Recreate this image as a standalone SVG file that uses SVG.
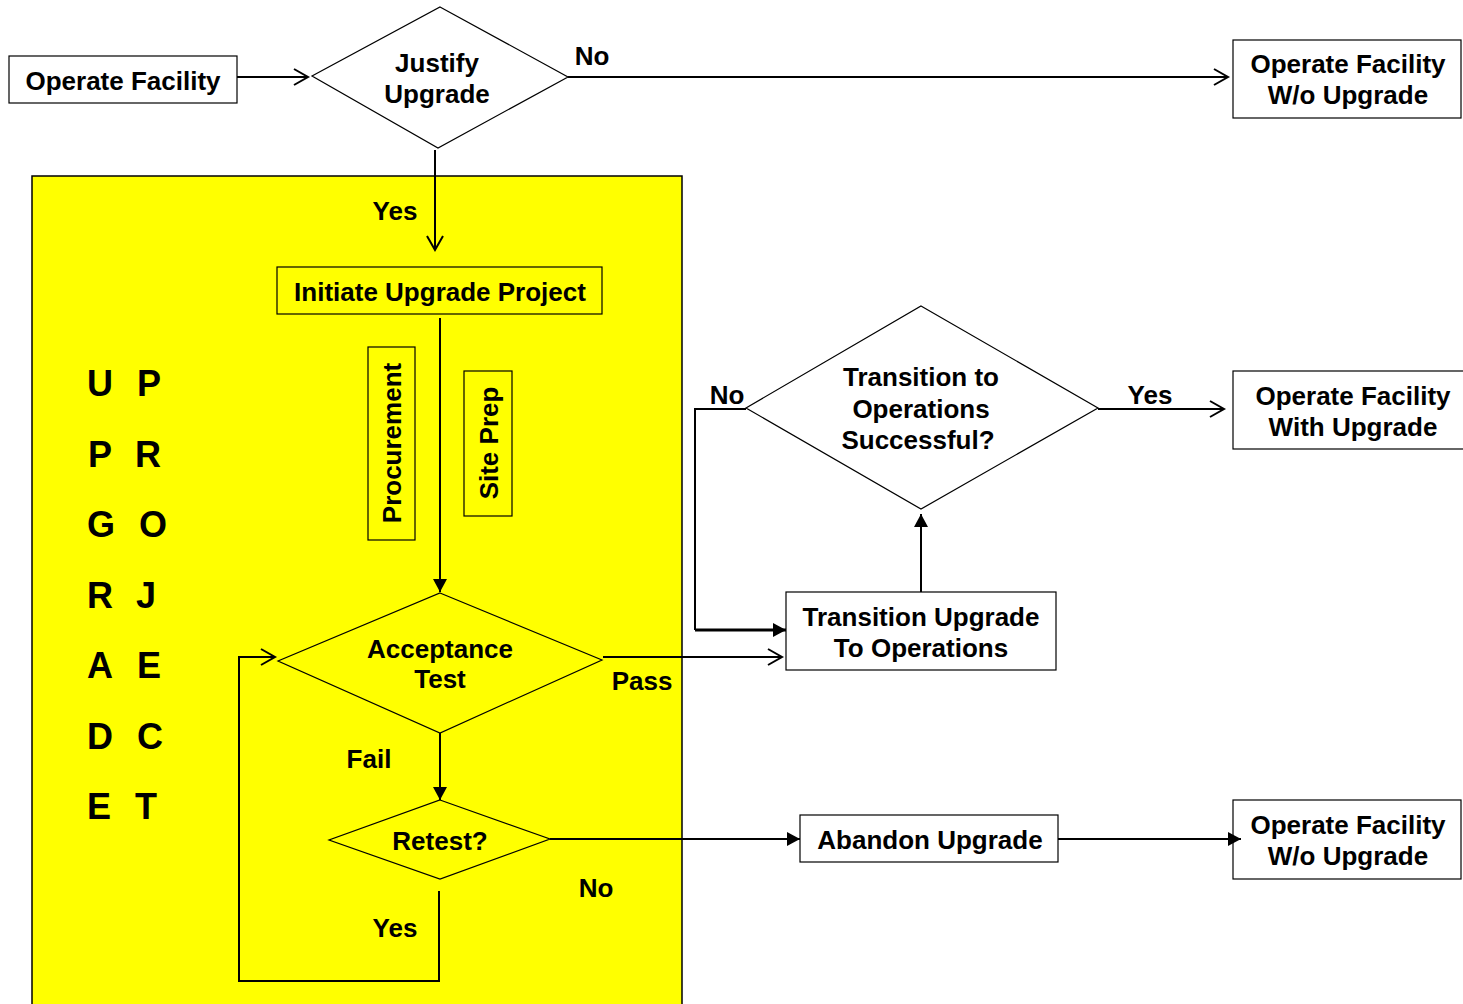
<svg xmlns="http://www.w3.org/2000/svg" width="1463" height="1004" viewBox="0 0 1463 1004">
<defs>
<marker id="open" markerUnits="userSpaceOnUse" markerWidth="18" markerHeight="20" refX="15" refY="9" orient="auto" overflow="visible"><path d="M1,1 L15,9 L1,17" fill="none" stroke="#000" stroke-width="2"/></marker>
<marker id="fill" markerUnits="userSpaceOnUse" markerWidth="14" markerHeight="14" refX="13" refY="7" orient="auto" overflow="visible"><path d="M0,0 L13,7 L0,14 z" fill="#000"/></marker>
</defs>
<style>
text{font-family:"Liberation Sans",Arial,sans-serif;font-weight:bold;font-size:26px;fill:#000;text-anchor:middle}
.box{fill:#fff;stroke:#000;stroke-width:1.2}
.ybox{fill:#ffff00;stroke:#000;stroke-width:1.2}
.big{font-size:36px;text-anchor:middle}
.c{fill:none;stroke:#000;stroke-width:2}
</style>
<rect width="1463" height="1004" fill="#fff"/>
<g id="project">
<rect x="32" y="176" width="650" height="840" fill="#ffff00" stroke="#000" stroke-width="1.5"/>
<g class="big-letters">
<text class="big" x="100" y="396">U</text><text class="big" x="149" y="396">P</text>
<text class="big" x="100" y="467">P</text><text class="big" x="148" y="467">R</text>
<text class="big" x="101" y="537">G</text><text class="big" x="153" y="537">O</text>
<text class="big" x="100" y="608">R</text><text class="big" x="146" y="608">J</text>
<text class="big" x="100" y="678">A</text><text class="big" x="149" y="678">E</text>
<text class="big" x="100" y="749">D</text><text class="big" x="150" y="749">C</text>
<text class="big" x="99" y="819">E</text><text class="big" x="146" y="819">T</text>
</g>
</g>
<g id="operate-facility">
<rect class="box" x="9" y="56" width="228" height="47"/>
<text x="123" y="90">Operate Facility</text>
</g>
<g id="justify-upgrade">
<polygon class="box" points="440,7 568,77 438,148 312,76"/>
<text x="437" y="72">Justify</text>
<text x="437" y="103">Upgrade</text>
</g>
<g id="operate-wo-upgrade-top">
<rect class="box" x="1233" y="40" width="228" height="78"/>
<text x="1348" y="73">Operate Facility</text>
<text x="1348" y="104">W/o Upgrade</text>
</g>
<g id="initiate-upgrade-project">
<rect class="ybox" x="277" y="267" width="325" height="47"/>
<text x="440" y="301">Initiate Upgrade Project</text>
</g>
<g id="procurement">
<rect class="ybox" x="368" y="347" width="47" height="193"/>
<text transform="translate(401,443) rotate(-90)">Procurement</text>
</g>
<g id="site-prep">
<rect class="ybox" x="464" y="371" width="48" height="145"/>
<text transform="translate(498,443) rotate(-90)">Site Prep</text>
</g>
<g id="acceptance-test">
<polygon class="ybox" points="440,593 602,660 440,733 278,661"/>
<text x="440" y="658">Acceptance</text>
<text x="440" y="688">Test</text>
</g>
<g id="retest">
<polygon class="ybox" points="440,800 550,839 440,879 329,840"/>
<text x="440" y="850">Retest?</text>
</g>
<g id="transition-successful">
<polygon class="box" points="921,306 1098,408 921,509 746,408"/>
<text x="921" y="386">Transition to</text>
<text x="921" y="418">Operations</text>
<text x="918" y="449">Successful?</text>
</g>
<g id="operate-with-upgrade">
<rect class="box" x="1233" y="371" width="232" height="78"/>
<text x="1353" y="405">Operate Facility</text>
<text x="1353" y="436">With Upgrade</text>
</g>
<g id="transition-upgrade">
<rect class="box" x="786" y="592" width="270" height="78"/>
<text x="921" y="626">Transition Upgrade</text>
<text x="921" y="657">To Operations</text>
</g>
<g id="abandon-upgrade">
<rect class="box" x="800" y="815" width="258" height="47"/>
<text x="930" y="849">Abandon Upgrade</text>
</g>
<g id="operate-wo-upgrade-bottom">
<rect class="box" x="1233" y="800" width="228" height="79"/>
<text x="1348" y="834">Operate Facility</text>
<text x="1348" y="865">W/o Upgrade</text>
</g>
<g id="connectors">
<line class="c" x1="237" y1="77" x2="308" y2="77" marker-end="url(#open)"/>
<line class="c" x1="568" y1="77" x2="1228" y2="77" marker-end="url(#open)"/>
<line class="c" x1="435" y1="150" x2="435" y2="250" marker-end="url(#open)"/>
<line class="c" x1="440" y1="318" x2="440" y2="592" marker-end="url(#fill)"/>
<line class="c" x1="603" y1="657" x2="782" y2="657" marker-end="url(#open)"/>
<line class="c" x1="440" y1="733" x2="440" y2="800" marker-end="url(#fill)"/>
<line class="c" x1="550" y1="839" x2="800" y2="839" marker-end="url(#fill)"/>
<polyline class="c" points="439,891 439,981 239,981 239,657 275,657" marker-end="url(#open)"/>
<line class="c" x1="1058" y1="839" x2="1241" y2="839" marker-end="url(#fill)"/>
<line class="c" x1="921" y1="592" x2="921" y2="514" marker-end="url(#fill)"/>
<line class="c" x1="1098" y1="409" x2="1224" y2="409" marker-end="url(#open)"/>
<polyline fill="none" stroke="#000" stroke-width="2" points="746,409 695,409 695,630"/>
<line x1="695" y1="630" x2="786" y2="630" stroke="#000" stroke-width="3" marker-end="url(#fill)"/>
<text x="592" y="65">No</text>
<text x="395" y="220">Yes</text>
<text x="642" y="690">Pass</text>
<text x="369" y="768">Fail</text>
<text x="596" y="897">No</text>
<text x="395" y="937">Yes</text>
<text x="1150" y="404">Yes</text>
<text x="727" y="404">No</text>
</g>
</svg>
